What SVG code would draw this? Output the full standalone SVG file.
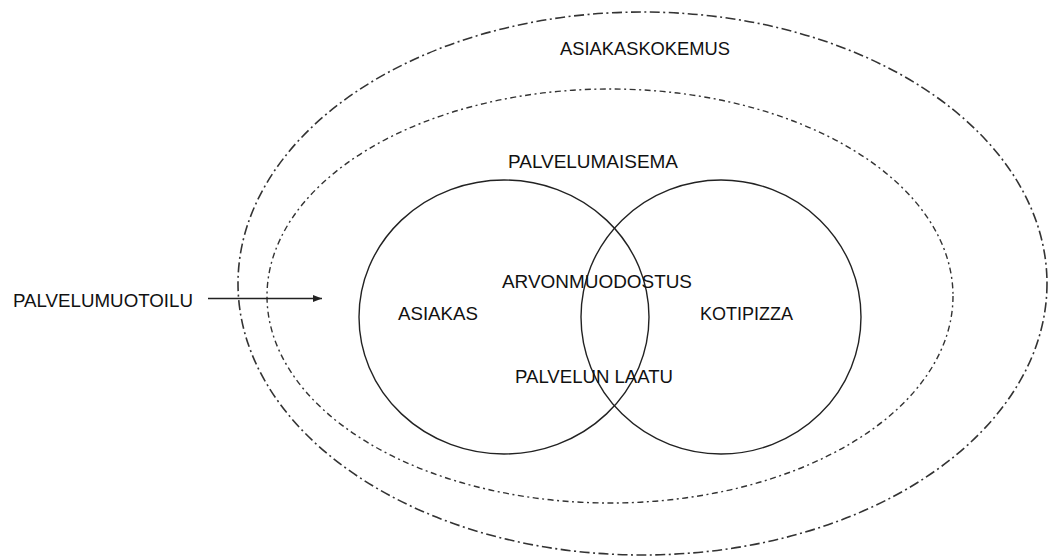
<svg xmlns="http://www.w3.org/2000/svg" width="1052" height="557" viewBox="0 0 1052 557">
<style>
text{font-family:"Liberation Sans",Arial,sans-serif;font-size:18px;fill:#111}
.outer{fill:none;stroke:#333;stroke-width:1.6;stroke-dasharray:10 3.5 2 3.5}
.inner{fill:none;stroke:#333;stroke-width:1.4;stroke-dasharray:6 3.5 2 3.5}
.circ{fill:none;stroke:#222;stroke-width:1.4}
.conn{stroke:#222;stroke-width:1.4;fill:none}
</style>
<defs>
<marker id="ah" markerWidth="10" markerHeight="8" refX="9" refY="4" orient="auto" markerUnits="userSpaceOnUse">
<path d="M0,0.5 L9,4 L0,7.5 z" fill="#222"/>
</marker>
</defs>
<g id="asiakaskokemus">
<ellipse class="outer" cx="642.5" cy="283.5" rx="404.5" ry="271.5"/>
<text x="560" y="55" textLength="170" lengthAdjust="spacingAndGlyphs">ASIAKASKOKEMUS</text>
</g>
<g id="palvelumaisema">
<ellipse class="inner" cx="610" cy="296" rx="343" ry="207"/>
<text x="508" y="168" textLength="170" lengthAdjust="spacingAndGlyphs">PALVELUMAISEMA</text>
</g>
<g id="asiakas">
<ellipse class="circ" cx="504" cy="317" rx="145" ry="137"/>
<text x="398" y="320" textLength="80" lengthAdjust="spacingAndGlyphs">ASIAKAS</text>
</g>
<g id="kotipizza">
<ellipse class="circ" cx="721" cy="317" rx="140" ry="137"/>
<text x="700" y="320" textLength="93" lengthAdjust="spacingAndGlyphs">KOTIPIZZA</text>
</g>
<g id="arvonmuodostus">
<text x="502" y="288" textLength="190" lengthAdjust="spacingAndGlyphs">ARVONMUODOSTUS</text>
</g>
<g id="palvelun-laatu">
<text x="515" y="383" textLength="158" lengthAdjust="spacingAndGlyphs">PALVELUN LAATU</text>
</g>
<g id="palvelumuotoilu">
<text x="13" y="307" textLength="180" lengthAdjust="spacingAndGlyphs">PALVELUMUOTOILU</text>
</g>
<g id="connectors">
<line class="conn" x1="208" y1="298.5" x2="322" y2="298.5" marker-end="url(#ah)"/>
</g>
</svg>
